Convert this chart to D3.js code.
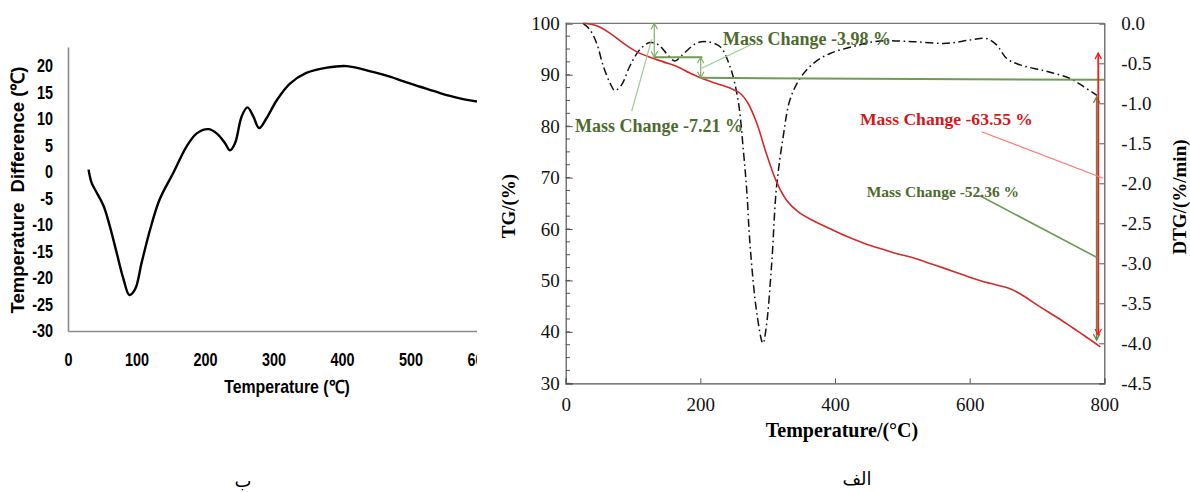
<!DOCTYPE html>
<html>
<head>
<meta charset="utf-8">
<script src="https://cdn.jsdelivr.net/npm/d3@7"></script>
<style>
body { margin: 0; background: #fff; }
svg { display: block; }
</style>
</head>
<body>
<div class="graphbox"></div>
<script>
// panel b : DTA curve
var dtaT = [30,34.5,42,52,61,71,81,89.5,98,107.5,120,134,154,173,188,205,217,229,236.5,244,253.5,262,270.5,279,290,305,324,348,378,407,445,470,490,514,543,572,597]
var dtaV = [0.45,-2.05,-3.9,-6.4,-10.2,-15.2,-20.2,-23.2,-22.1,-17.1,-10.8,-5.1,-0.1,4.8,7.3,8.1,7.3,5.5,4.1,5.5,10.5,12.2,10.5,8.3,10.2,13.6,16.7,18.7,19.7,20.0,18.9,18.0,17.1,16.1,14.9,13.9,13.3]
var dtaXTicks = [0,100,200,300,400,500,600]
var dtaYTicks = [20,15,10,5,0,-5,-10,-15,-20,-25,-30]

// panel alef : TG and DTG
var tgT = [26,46,66,86,105,125,145,165,185,202,224,244,259,271,284,298,313,328,345,368,392,417,442,467,492,516,541,566,590,615,640,660,675,704,730,754,770,794]
var tgV = [100,99.5,98.05,96.1,94.5,93.4,92.5,91.6,90.3,89.3,88.3,87.4,86.4,84.4,80.5,74.7,69.2,65.6,63.4,61.6,60.1,58.6,57.3,56.2,55.2,54.4,53.3,52.2,51.1,50.0,49.1,48.4,47.4,44.9,42.8,40.7,39.3,37.1]
var dtgT = [26,36,46,56,66,73,83,95,110,125,138,150,162,175,194,209,229,244,256,264,269,274,284,293,298,306,313,323,333,348,368,392,427,467,516,566,600,625,640,655,675,714,749,769,789]
var dtgV = [0,-0.08,-0.25,-0.54,-0.75,-0.84,-0.77,-0.54,-0.33,-0.24,-0.27,-0.38,-0.47,-0.38,-0.25,-0.23,-0.29,-0.54,-0.96,-1.6,-2.1,-2.79,-3.63,-4.0,-3.79,-3.0,-2.06,-1.42,-0.96,-0.69,-0.5,-0.38,-0.29,-0.22,-0.23,-0.25,-0.21,-0.19,-0.27,-0.44,-0.52,-0.6,-0.69,-0.79,-0.9]
var tgXTicks = [0,200,400,600,800]
var tgYTicks = [30,40,50,60,70,80,90,100]
var dtgYTicks = [0,-0.5,-1,-1.5,-2,-2.5,-3,-3.5,-4,-4.5]

// mass loss steps (temperature, TG level)
var stepTemps = [131.6,200.5]
var stepLevels = [100,93.4,89.4]
var massLabels = ["Mass Change -3.98 %","Mass Change -7.21 %","Mass Change -63.55 %","Mass Change -52.36 %"]
var panelNames = ["ب","الف"]

var svgWidth = 1190;
var svgHeight = 492;

var mysvg = d3.select(".graphbox")
  .append("svg")
  .attr("width", svgWidth)
  .attr("height", svgHeight);

var hyphen = function(f) { return function(d) { return f(d).replace("−","-"); }; };

// ---------- left panel ----------
var xL = d3.scaleLinear().domain([0,600]).range([68,479]);
var yL = d3.scaleLinear().domain([-30,23.6]).range([331,47]);
var sansB = "'Liberation Sans',Arial,sans-serif";
var squeeze = 0.8;

mysvg.append("clipPath").attr("id","cutL")
  .append("rect").attr("x",0).attr("y",0).attr("width",477).attr("height",svgHeight);

var left = mysvg.append("g").attr("clip-path","url(#cutL)");

var axL = left.append("g")
  .attr("transform","translate(0,331)")
  .call(d3.axisBottom(xL).tickValues(dtaXTicks).tickSize(0).tickPadding(22).tickFormat(hyphen(d3.format("d"))));
var ayL = left.append("g")
  .attr("transform","translate(68,0)")
  .call(d3.axisLeft(yL).tickValues(dtaYTicks).tickSize(0).tickPadding(15).tickFormat(hyphen(d3.format("d"))));

[axL, ayL].forEach(function(a) {
  a.select(".domain").attr("stroke","#8a8a8a").attr("stroke-width",1.6);
  a.selectAll("text").attr("font-family",sansB).attr("font-weight","bold")
    .attr("font-size","18px").attr("fill","#000")
    .attr("x",function() { return (+d3.select(this).attr("x") || 0) / squeeze; })
    .attr("transform","scale(" + squeeze + ",1)");
});

var dtaLine = d3.line()
  .x(function(d,i) { return xL(dtaT[i]); })
  .y(function(d) { return yL(d); })
  .curve(d3.curveCatmullRom);

left.append("path")
  .attr("d", dtaLine(dtaV))
  .attr("fill","none")
  .attr("stroke","#000")
  .attr("stroke-width",2.4)
  .attr("stroke-linejoin","round");

mysvg.append("text")
  .attr("transform","translate(287,393) scale(0.88,1)")
  .attr("text-anchor","middle")
  .attr("font-family",sansB).attr("font-weight","bold").attr("font-size","18px")
  .text("Temperature (℃)");

mysvg.append("text")
  .attr("transform","translate(24,190) rotate(-90)")
  .attr("text-anchor","middle")
  .attr("font-family",sansB).attr("font-weight","bold").attr("font-size","18.5px")
  .attr("xml:space","preserve")
  .text("Temperature  Difference (℃)");

// ---------- right panel ----------
var xR = d3.scaleLinear().domain([0,800]).range([565.7,1104.3]);
var yR = d3.scaleLinear().domain([30,100]).range([383.3,23.3]);
var yD = d3.scaleLinear().domain([-4.5,0]).range([383.3,23.3]);
var serif = "'Liberation Serif','Times New Roman',serif";

// minor ticks on TG axis
var minorTG = d3.range(30,100.01,2.5);
mysvg.selectAll("line.minor")
  .data(minorTG)
  .enter()
  .append("line")
  .attr("class","minor")
  .attr("x1",565.7).attr("x2",570)
  .attr("y1",function(d) { return yR(d); })
  .attr("y2",function(d) { return yR(d); })
  .attr("stroke","#555").attr("stroke-width",1);

var axR = mysvg.append("g")
  .attr("transform","translate(0,383.3)")
  .call(d3.axisBottom(xR).tickValues(tgXTicks).tickSize(-5).tickPadding(14).tickFormat(d3.format("d")));
var ayR = mysvg.append("g")
  .attr("transform","translate(565.7,0)")
  .call(d3.axisLeft(yR).tickValues(tgYTicks).tickSize(-7).tickPadding(6).tickFormat(d3.format("d")));
var ayD = mysvg.append("g")
  .attr("transform","translate(1104.3,0)")
  .call(d3.axisRight(yD).tickValues(dtgYTicks).tickSize(-5).tickPadding(17).tickFormat(hyphen(d3.format(".1f"))));

[axR, ayR, ayD].forEach(function(a) {
  a.select(".domain").attr("stroke","#555").attr("stroke-width",1.2);
  a.selectAll(".tick line").attr("stroke","#555");
  a.selectAll("text").attr("font-family",serif).attr("font-size","19px").attr("fill","#111");
});

mysvg.append("line")
  .attr("x1",565.7).attr("x2",1104.3).attr("y1",23.3).attr("y2",23.3)
  .attr("stroke","#777").attr("stroke-width",1.2);

var dtgLine = d3.line()
  .x(function(d,i) { return xR(dtgT[i]); })
  .y(function(d) { return yD(d); })
  .curve(d3.curveCatmullRom);

mysvg.append("path")
  .attr("d", dtgLine(dtgV))
  .attr("fill","none")
  .attr("stroke","#111")
  .attr("stroke-width",1.5)
  .attr("stroke-dasharray","8,3.5,1.6,3.5");

var tgLine = d3.line()
  .x(function(d,i) { return xR(tgT[i]); })
  .y(function(d) { return yR(d); })
  .curve(d3.curveCatmullRom);

mysvg.append("path")
  .attr("d", tgLine(tgV))
  .attr("fill","none")
  .attr("stroke","#d42a2a")
  .attr("stroke-width",1.6);

// arrow heads
var defs = mysvg.append("defs");
function head(id, col) {
  defs.append("marker")
    .attr("id",id)
    .attr("viewBox","-8 -5 10 10")
    .attr("markerWidth",10).attr("markerHeight",10)
    .attr("markerUnits","userSpaceOnUse")
    .attr("refX",0).attr("refY",0)
    .attr("orient","auto-start-reverse")
    .append("path")
    .attr("d","M-6,-3.2L0,0L-6,3.2")
    .attr("fill","none").attr("stroke",col).attr("stroke-width",1.2);
}
head("hgreen","#7fae66");
head("hdark","#5f8a45");
head("hred","#ff1a1a");

var green = "#6f9b55", light = "#9fcb8a", textGreen = "#4e6a2e";

function seg(t1,v1,t2,v2,col,w,mk) {
  var l = mysvg.append("line")
    .attr("x1",xR(t1)).attr("y1",yR(v1))
    .attr("x2",xR(t2)).attr("y2",yR(v2))
    .attr("stroke",col).attr("stroke-width",w);
  if (mk) { l.attr("marker-start","url(#"+mk+")").attr("marker-end","url(#"+mk+")"); }
}

// first step
seg(stepTemps[0],stepLevels[0],stepTemps[0],stepLevels[1],"#7fae66",1.2,"hgreen");
seg(stepTemps[0],stepLevels[1],203,stepLevels[1],green,2);
// second step
seg(stepTemps[1],stepLevels[1],stepTemps[1],stepLevels[2],"#7fae66",1.2,"hgreen");
seg(stepTemps[1],stepLevels[2],800,89.0,green,2);
// total and main loss arrows
seg(788.6,85.7,788.6,38.4,"#5f8a45",1.6,"hdark");
seg(791,94.2,791,39.4,"#ff1a1a",1.8,"hred");

// leaders
seg(274.2,95.78,202,91.25,light,1.2);
seg(98,82.9,127.7,96.89,light,1.2);
seg(617.8,78.92,798.5,69.86,"#ff7373",1.1);
seg(615.3,66.48,788.6,54.5,green,1.6);

var labs = [
  {t:233.6, v:95.78, c:textGreen, s:18},
  {t:13.8, v:78.85, c:textGreen, s:18},
  {t:437, v:80.17, c:"#d01820", s:17.6},
  {t:447, v:66.2, c:textGreen, s:15.5}
];
mysvg.selectAll("text.mass")
  .data(massLabels)
  .enter()
  .append("text")
  .attr("class","mass")
  .attr("x",function(d,i) { return xR(labs[i].t); })
  .attr("y",function(d,i) { return yR(labs[i].v); })
  .attr("font-family",serif).attr("font-weight","bold")
  .attr("font-size",function(d,i) { return labs[i].s + "px"; })
  .attr("fill",function(d,i) { return labs[i].c; })
  .text(function(d) { return d; });

mysvg.append("text")
  .attr("x",842).attr("y",437)
  .attr("text-anchor","middle")
  .attr("font-family",serif).attr("font-weight","bold").attr("font-size","20px")
  .text("Temperature/(°C)");

mysvg.append("text")
  .attr("transform","translate(515,206) rotate(-90)")
  .attr("text-anchor","middle")
  .attr("font-family",serif).attr("font-weight","bold").attr("font-size","19px")
  .text("TG/(%)");

mysvg.append("text")
  .attr("transform","translate(1186,197) rotate(-90)")
  .attr("text-anchor","middle")
  .attr("font-family",serif).attr("font-weight","bold").attr("font-size","19px")
  .text("DTG/(%/min)");

// panel names
mysvg.append("text").attr("x",243).attr("y",487).attr("text-anchor","middle")
  .attr("font-family","'DejaVu Sans',sans-serif").attr("font-size","18px").text(panelNames[0]);
mysvg.append("text").attr("x",857).attr("y",485).attr("text-anchor","middle")
  .attr("font-family","'DejaVu Sans',sans-serif").attr("font-size","18px").text(panelNames[1]);
</script>
</body>
</html>
